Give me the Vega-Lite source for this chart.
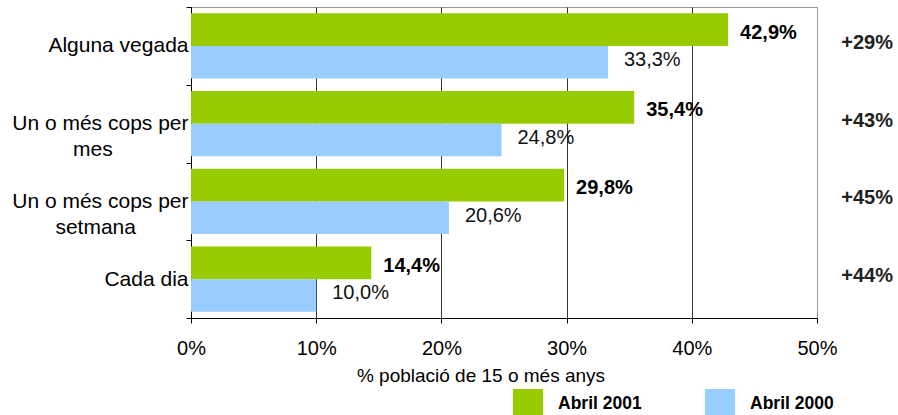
{
  "$schema": "https://vega.github.io/schema/vega-lite/v6.json",
  "width": 626,
  "height": 311,
  "autosize": "none",
  "padding": {"left": 191, "top": 7, "right": 81, "bottom": 97},
  "background": "white",
  "config": {
    "locale": {"number": {"decimal": ",", "thousands": ".", "grouping": [3], "currency": ["", " €"]}},
    "view": {"stroke": "#999", "strokeWidth": 1},
    "font": "Liberation Sans"
  },
  "datasets": {
    "bars": [
      {"categoria": "Alguna vegada", "periode": "Abril 2001", "valor": 0.429},
      {"categoria": "Alguna vegada", "periode": "Abril 2000", "valor": 0.333},
      {"categoria": "Un o més cops per mes", "periode": "Abril 2001", "valor": 0.354},
      {"categoria": "Un o més cops per mes", "periode": "Abril 2000", "valor": 0.248},
      {"categoria": "Un o més cops per setmana", "periode": "Abril 2001", "valor": 0.298},
      {"categoria": "Un o més cops per setmana", "periode": "Abril 2000", "valor": 0.206},
      {"categoria": "Cada dia", "periode": "Abril 2001", "valor": 0.144},
      {"categoria": "Cada dia", "periode": "Abril 2000", "valor": 0.100}
    ],
    "canvi": [
      {"categoria": "Alguna vegada", "canvi": "+29%"},
      {"categoria": "Un o més cops per mes", "canvi": "+43%"},
      {"categoria": "Un o més cops per setmana", "canvi": "+45%"},
      {"categoria": "Cada dia", "canvi": "+44%"}
    ]
  },
  "layer": [
    {
      "data": {"name": "bars"},
      "mark": {"type": "bar"},
      "encoding": {
        "y": {
          "field": "categoria",
          "type": "nominal",
          "scale": {
            "domain": ["Alguna vegada", "Un o més cops per mes", "Un o més cops per setmana", "Cada dia"],
            "paddingInner": 0,
            "paddingOuter": 0
          },
          "axis": {
            "title": null,
            "tickBand": "extent",
            "tickSize": 5,
            "tickColor": "#000",
            "domainColor": "#000",
            "labelColor": "#000",
            "labelFontSize": 21,
            "labelPadding": -2,
            "labelLineHeight": 26,
            "labelLimit": 300,
            "labelExpr": "datum.value === 'Un o més cops per mes' ? ['Un o més cops per', 'mes\u00a0\u00a0\u00a0\u00a0\u00a0\u00a0\u00a0\u00a0\u00a0\u00a0\u00a0\u00a0\u00a0\u2060'] : datum.value === 'Un o més cops per setmana' ? ['Un o més cops per', 'setmana\u00a0\u00a0\u00a0\u00a0\u00a0\u00a0\u00a0\u00a0\u00a0\u2060'] : datum.value"
          }
        },
        "yOffset": {
          "field": "periode",
          "scale": {"domain": ["Abril 2001", "Abril 2000"], "paddingInner": 0, "paddingOuter": 0.196}
        },
        "x": {
          "field": "valor",
          "type": "quantitative",
          "scale": {"domain": [0, 0.5], "nice": false},
          "axis": {
            "values": [0, 0.1, 0.2, 0.3, 0.4, 0.5],
            "format": ".0%",
            "grid": true,
            "gridColor": {"condition": {"test": "datum.value === 0.5", "value": "#999"}, "value": "#333"},
            "tickSize": 5,
            "tickColor": "#000",
            "domainColor": "#000",
            "labelColor": "#000",
            "labelFontSize": 20,
            "labelPadding": 15,
            "labelFlush": false,
            "labelOverlap": false,
            "title": "% població de 15 o més anys",
            "titleFontSize": 19,
            "titleFontWeight": "normal",
            "titleColor": "#000",
            "titleX": 289.5,
            "titleY": 57,
            "titleAlign": "center",
            "titleBaseline": "middle"
          }
        },
        "color": {
          "field": "periode",
          "type": "nominal",
          "scale": {"domain": ["Abril 2001", "Abril 2000"], "range": ["#99CC00", "#99CCFF"]},
          "legend": {
            "orient": "none",
            "legendX": 322,
            "legendY": 382,
            "direction": "horizontal",
            "title": null,
            "symbolType": "square",
            "symbolSize": 900,
            "symbolStrokeWidth": 0,
            "symbolOpacity": 1,
            "labelFontSize": 17.5,
            "labelFontWeight": "bold",
            "labelColor": "#000",
            "labelOffset": 15,
            "columnPadding": 63,
            "padding": 0,
            "labelLimit": 200
          }
        }
      }
    },
    {
      "data": {"name": "bars"},
      "transform": [{"filter": "datum.periode === 'Abril 2001'"}],
      "mark": {"type": "text", "align": "left", "baseline": "middle", "dx": 12, "dy": 3, "fontSize": 20, "fontWeight": "bold", "color": "#000"},
      "encoding": {
        "y": {"field": "categoria", "type": "nominal"},
        "yOffset": {"field": "periode"},
        "x": {"field": "valor", "type": "quantitative"},
        "text": {"field": "valor", "type": "quantitative", "format": ".1%"}
      }
    },
    {
      "data": {"name": "bars"},
      "transform": [{"filter": "datum.periode === 'Abril 2000'"}],
      "mark": {"type": "text", "align": "left", "baseline": "middle", "dx": 16, "dy": -2, "fontSize": 20, "fontWeight": "normal", "color": "#111"},
      "encoding": {
        "y": {"field": "categoria", "type": "nominal"},
        "yOffset": {"field": "periode"},
        "x": {"field": "valor", "type": "quantitative"},
        "text": {"field": "valor", "type": "quantitative", "format": ".1%"}
      }
    },
    {
      "data": {"name": "canvi"},
      "mark": {"type": "text", "align": "right", "baseline": "middle", "dy": -3, "fontSize": 20, "fontWeight": "bold", "color": "#222", "clip": false},
      "encoding": {
        "y": {"field": "categoria", "type": "nominal"},
        "x": {"datum": 0.5607, "type": "quantitative"},
        "text": {"field": "canvi", "type": "nominal"}
      }
    }
  ]
}
